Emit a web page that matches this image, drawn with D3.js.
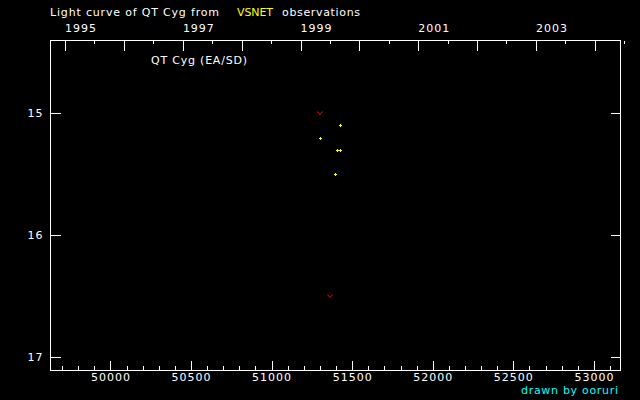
<!DOCTYPE html>
<html>
<head>
<meta charset="utf-8">
<script src="https://cdn.jsdelivr.net/npm/d3@7"></script>
<style>
  body { margin: 0; background: #000; }
  svg { display: block; }
  text { font-family: "DejaVu Sans", sans-serif; font-size: 11px; fill: #fff; }
</style>
</head>
<body>
<script>
let w = 640;
let h = 400;

// Data (x = JD - 2400000, y = magnitude)
let obsJD  = [51303, 51427, 51403, 51427, 51396];
let obsMag = [15.2, 15.1, 15.3, 15.3, 15.5];
// fainter-than observations (red "v")
let limJD  = [51300, 51364];
let limMag = [15.0, 16.5];

// Tick labels
let jdTicks = [50000, 50500, 51000, 51500, 52000, 52500, 53000];
let magTicks = [15, 16, 17];
let years = [1995, 1996, 1997, 1998, 1999, 2000, 2001, 2002, 2003, 2004];
let yearLabels = [1995, 1997, 1999, 2001, 2003];

// JD-2400000 of a calendar date
function jdOf(y, m, d) {
  return (Date.UTC(y, m, d) - Date.UTC(1858, 10, 17)) / 86400000 + 0.5;
}

// Scales
let xScale = d3.scaleLinear()
  .domain([49628, 53165])
  .range([50.5, 620.5]);

let yScale = d3.scaleLinear()
  .domain([14.405, 17.107])
  .range([40.5, 370.5]);

let svg = d3.select("body")
  .append("svg")
  .attr("width", w)
  .attr("height", h);

svg.append("rect")
  .attr("width", w)
  .attr("height", h)
  .attr("fill", "#000");

// Frame
svg.append("rect")
  .attr("x", xScale.range()[0])
  .attr("y", yScale.range()[0])
  .attr("width", xScale.range()[1] - xScale.range()[0])
  .attr("height", yScale.range()[1] - yScale.range()[0])
  .attr("fill", "none")
  .attr("stroke", "#fff")
  .attr("shape-rendering", "crispEdges");

let tickStyle = (g) => {
  g.select(".domain").remove();
  g.selectAll("line").attr("stroke", "#fff").attr("shape-rendering", "crispEdges");
  g.selectAll("text").attr("fill", "#fff").attr("font-size", "11px")
    .attr("font-family", "DejaVu Sans, sans-serif");
};

// Bottom axis: minor ticks every 100 days
let minorJD = d3.range(49700, 53165, 100).filter(d => d % 500 !== 0);
svg.append("g")
  .attr("transform", "translate(0," + yScale.range()[1] + ")")
  .call(d3.axisBottom(xScale).tickValues(minorJD).tickSize(-5).tickFormat(""))
  .call(tickStyle);

svg.append("g")
  .attr("transform", "translate(0," + yScale.range()[1] + ")")
  .call(d3.axisBottom(xScale).tickValues(jdTicks).tickSize(-10).tickPadding(4)
    .tickFormat(d => d))
  .call(tickStyle)
  .selectAll("text")
  .attr("letter-spacing", "1px")
  .attr("dy", "0.6em");

// Top axis: years
let halfYears = years.map(y => jdOf(y, 6, 2));
svg.append("g")
  .attr("transform", "translate(0," + yScale.range()[0] + ")")
  .call(d3.axisTop(xScale).tickValues(halfYears).tickSize(-3).tickFormat(""))
  .call(tickStyle);

svg.append("g")
  .attr("transform", "translate(0," + yScale.range()[0] + ")")
  .call(d3.axisTop(xScale).tickValues(years.map(y => jdOf(y, 0, 1))).tickSize(-10).tickFormat(""))
  .call(tickStyle);

svg.selectAll("text.year")
  .data(yearLabels)
  .enter()
  .append("text")
  .attr("class", "year")
  .attr("x", d => xScale(jdOf(d, 0, 1)))
  .attr("y", 32)
  .attr("letter-spacing", "1px")
  .text(d => d);

// Left / right magnitude ticks
svg.append("g")
  .attr("transform", "translate(" + xScale.range()[0] + ",0)")
  .call(d3.axisLeft(yScale).tickValues(magTicks).tickSize(-10).tickPadding(7)
    .tickFormat(d3.format("d")))
  .call(tickStyle)
  .selectAll("text")
  .attr("letter-spacing", "1px");

svg.append("g")
  .attr("transform", "translate(" + xScale.range()[1] + ",0)")
  .call(d3.axisRight(yScale).tickValues(magTicks).tickSize(-10).tickFormat(""))
  .call(tickStyle);

// Title
svg.append("text")
  .attr("x", 50).attr("y", 16)
  .attr("textLength", 169).attr("lengthAdjust", "spacing")
  .text("Light curve of QT Cyg from");
svg.append("text")
  .attr("x", 237).attr("y", 16)
  .attr("textLength", 36).attr("lengthAdjust", "spacing")
  .style("fill", "#ffff00")
  .text("VSNET");
svg.append("text")
  .attr("x", 282).attr("y", 16)
  .attr("textLength", 78).attr("lengthAdjust", "spacing")
  .text("observations");

svg.append("text")
  .attr("x", 151).attr("y", 64)
  .attr("textLength", 96).attr("lengthAdjust", "spacing")
  .text("QT Cyg (EA/SD)");

svg.append("text")
  .attr("x", 521).attr("y", 394)
  .attr("textLength", 97).attr("lengthAdjust", "spacing")
  .style("fill", "#00ffff")
  .text("drawn by ooruri");

// Observations
svg.selectAll("path.obs")
  .data(obsJD)
  .enter()
  .append("path")
  .attr("class", "obs")
  .attr("transform", (d, i) => "translate(" + Math.round(xScale(d)) + "," + Math.round(yScale(obsMag[i])) + ")")
  .attr("d", "M-1,0.5H2M0.5,-1V2")
  .attr("stroke", "#ffff00")
  .attr("fill", "none");

// Fainter-than marks
svg.selectAll("path.lim")
  .data(limJD)
  .enter()
  .append("path")
  .attr("class", "lim")
  .attr("transform", (d, i) => "translate(" + Math.round(xScale(d)) + "," + Math.round(yScale(limMag[i])) + ")")
  .attr("d", "M-2.5,-1.5L0,1.5L2.5,-1.5")
  .attr("stroke", "#ff0000")
  .attr("fill", "none");
</script>
</body>
</html>
